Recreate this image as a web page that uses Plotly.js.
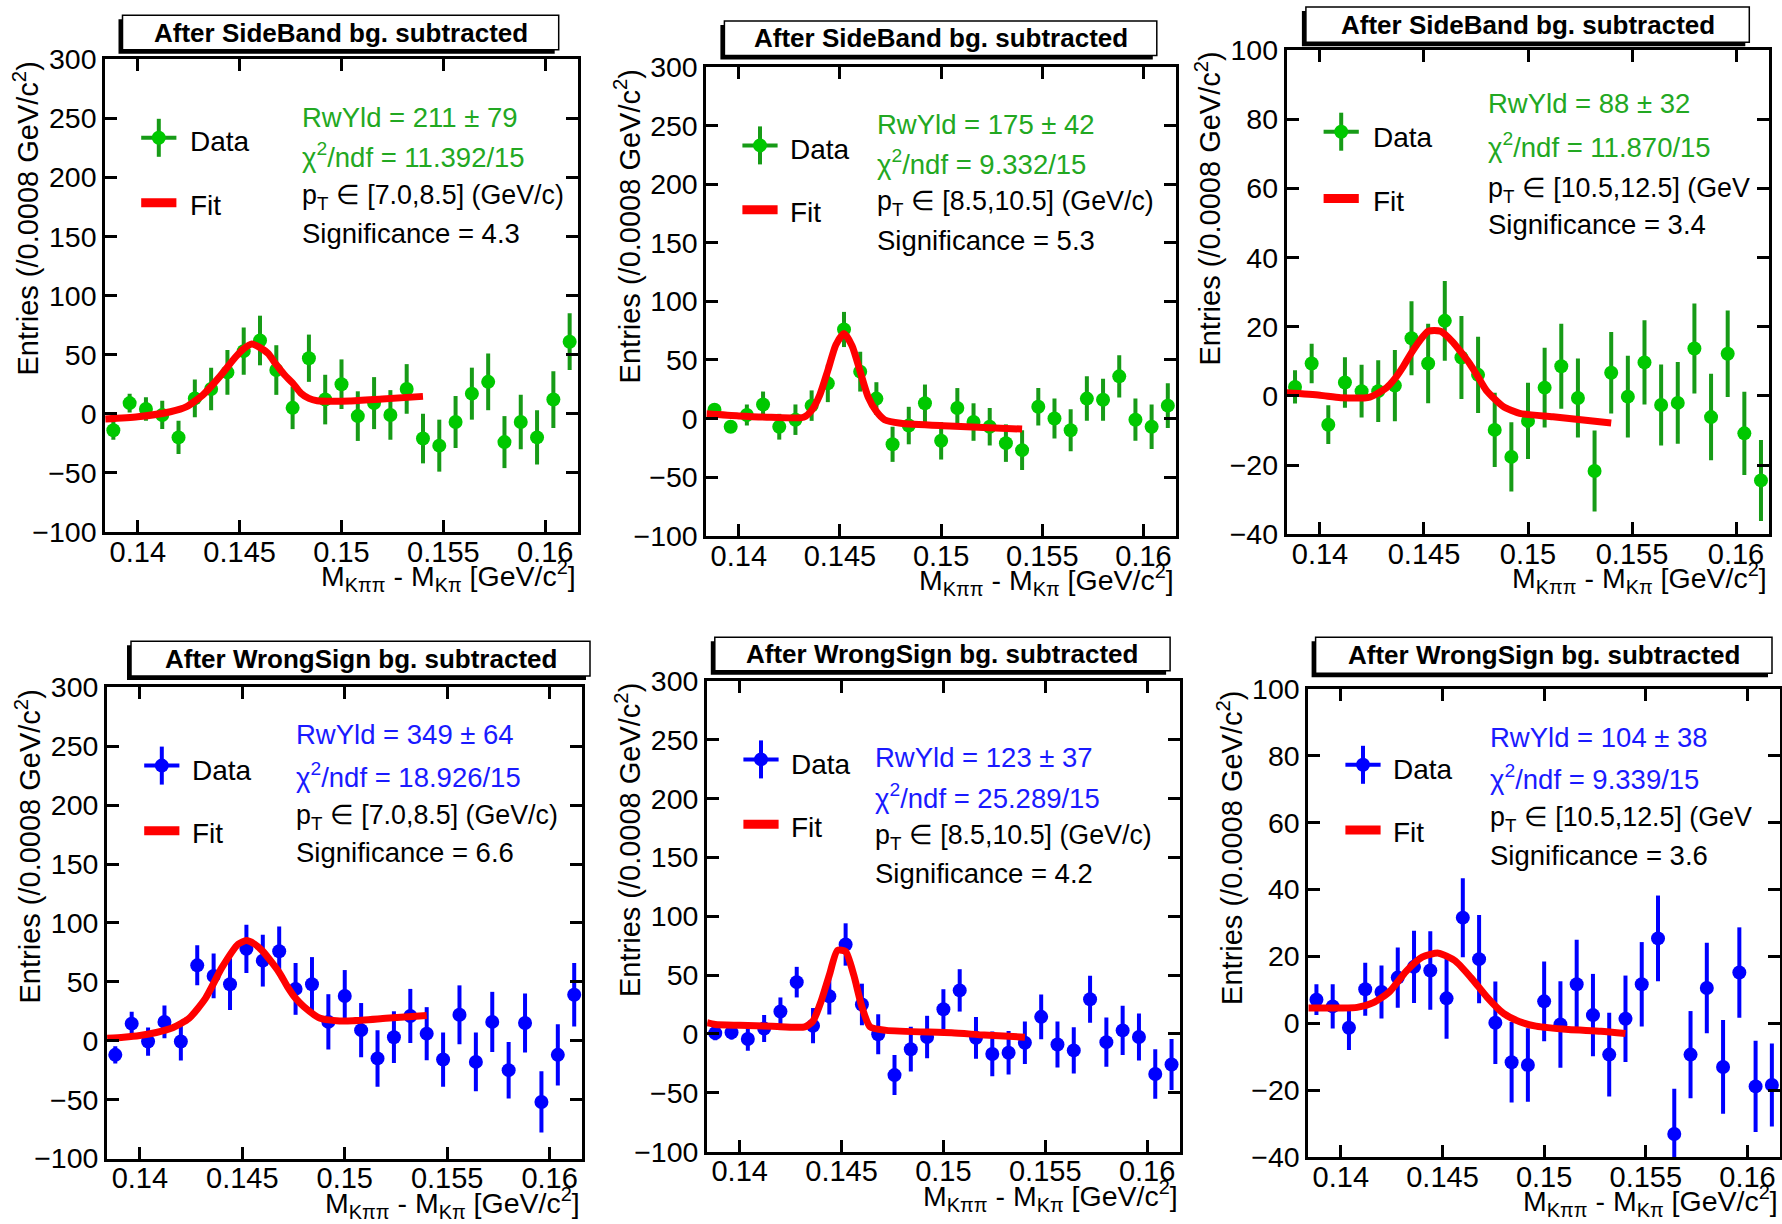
<!DOCTYPE html>
<html><head><meta charset="utf-8">
<script src="https://cdn.plot.ly/plotly-3.0.1.min.js"></script>
<style>html,body{margin:0;padding:0;background:#fff;} #chart{width:1782px;height:1224px;}</style>
</head><body><div id="chart"></div>
<script>
// ---------------- DATA ----------------
const binCenters = [0.1388, 0.1396, 0.1404, 0.1412, 0.1420, 0.1428, 0.1436, 0.1444, 0.1452, 0.1460,
  0.1468, 0.1476, 0.1484, 0.1492, 0.1500, 0.1508, 0.1516, 0.1524, 0.1532, 0.1540,
  0.1548, 0.1556, 0.1564, 0.1572, 0.1580, 0.1588, 0.1596, 0.1604, 0.1612];
const xTickVals = [0.14, 0.145, 0.15, 0.155, 0.16];
const xTickText = ['0.14', '0.145', '0.15', '0.155', '0.16'];
const yTicksWide = [-100, -50, 0, 50, 100, 150, 200, 250, 300];
const yTicksNarrow = [-40, -20, 0, 20, 40, 60, 80, 100];

// SideBand, pT [7.0,8.5]
const sb1Y = [-14, 9, 4, -1, -20, 13, 21, 35, 53, 62, 37, 5, 47, 12, 25, -2, 9, -1, 21, -21, -27, -7, 17, 27, -24, -7, -20, 12, 61];
const sb1E = [8, 8, 10, 12, 14, 16, 18, 19, 20, 21, 21, 18, 20, 21, 21, 21, 22, 21, 21, 21, 22, 22, 22, 24, 22, 23, 23, 24, 24];
const sb1FitX = [0.1384, 0.1400, 0.1416, 0.1424, 0.1432, 0.1440, 0.1448, 0.1452, 0.1456, 0.1460, 0.1464, 0.1468, 0.1472, 0.1476, 0.1480, 0.1484, 0.1488, 0.1496, 0.1504, 0.1520, 0.1540];
const sb1FitY = [-4.5, -2.6, 1.7, 6, 16, 31, 48, 55, 59, 56, 51, 41.5, 33, 26, 17.5, 13, 11, 10.5, 10.8, 12.5, 14.7];

// SideBand, pT [8.5,10.5]
const sb2Y = [7.5, -7, 3, 12, -7, -1, 11, 30, 76, 40, 17, -22, -6, 13, -19, 9, -3, -7, -21, -27, 10, 0, -10, 17, 16, 36, -1, -7, 11];
const sb2E = [5, 5, 9, 11, 11, 13, 13, 16, 15, 17, 14, 15, 16, 16, 16, 17, 16, 16, 16, 17, 16, 17, 18, 19, 18, 18, 18, 19, 19];
const sb2FitX = [0.1384, 0.1400, 0.1416, 0.1432, 0.1436, 0.1440, 0.1444, 0.1448, 0.1452, 0.1456, 0.1460, 0.1464, 0.1468, 0.1472, 0.1480, 0.1504, 0.1540];
const sb2FitY = [4, 2.2, 1.1, 1.1, 7, 20, 41, 63, 72.5, 62, 40, 18, 6, -1, -4, -6.3, -9];

// SideBand, pT [10.5,12.5]
const sb3Y = [2.6, 9.4, -8.3, 3.9, 1.4, 1.4, 3, 16.7, 9.4, 21.7, 11.1, 6.1, -9.8, -17.6, -7.2, 2.4, 8.6, -0.6, -21.7, 6.7, -0.2, 9.7, -2.6, -2, 13.7, -6.1, 12.2, -10.8, -24.4];
const sb3E = [4.8, 5.7, 5.6, 7.3, 7.6, 8.9, 10.3, 10.7, 11.5, 11.5, 12, 11, 10.7, 10, 11, 11.5, 12.3, 11.4, 11.7, 11.8, 11.8, 12.2, 11.7, 11.8, 13, 12.5, 12.5, 12, 11.7];
const sb3FitX = [0.1384, 0.1400, 0.1410, 0.1424, 0.1432, 0.1436, 0.1440, 0.1444, 0.1448, 0.1452, 0.1458, 0.1464, 0.1468, 0.1472, 0.1476, 0.1480, 0.1488, 0.1496, 0.1512, 0.1540];
const sb3FitY = [0.9, 0.2, -0.5, -0.3, 2.4, 5, 8.5, 12.5, 16, 18.7, 18.7, 15.5, 12.5, 9.3, 5.5, 1.6, -3, -5, -6, -7.8];

// WrongSign, pT [7.0,8.5]
const ws1Y = [-12, 14.5, -0.7, 16, -0.7, 64, 55, 48, 78, 68, 76, 44, 48, 16, 38, 9, -15, 3, 21, 6, -16, 22, -18, 16, -25, 15, -52, -12, 39];
const ws1E = [7.4, 10, 12, 14, 16, 17, 19, 22, 20.5, 22, 21, 22, 23, 23.5, 22, 23, 24, 22, 23, 22.5, 23, 25, 25, 25.5, 24, 25, 26, 26, 27];
const ws1FitX = [0.1384, 0.1392, 0.1400, 0.1408, 0.1416, 0.1424, 0.1432, 0.1440, 0.1448, 0.1452, 0.1456, 0.1460, 0.1468, 0.1472, 0.1476, 0.1480, 0.1488, 0.1496, 0.1504, 0.1520, 0.1540];
const ws1FitY = [2, 3, 4.5, 7, 11, 19, 36, 62, 82, 85, 82, 76, 58, 46, 36, 29, 19, 17, 17, 19, 21.5];

// WrongSign, pT [8.5,10.5]
const ws2Y = [0.7, 1.3, -4.3, 4.6, 19, 44, 7, 32, 76, 25, -0.3, -35, -13, -2.6, 21, 37, -3.3, -17, -16, -7.5, 14.5, -9, -14, 29.5, -7, 3, -2.6, -34, -26];
const ws2E = [6, 6, 10, 11.5, 12, 13, 15, 15.5, 18, 17.7, 17, 17, 19, 18, 17, 18, 17.7, 19, 18.5, 18, 19, 19.6, 19.6, 20, 21, 21, 20, 21, 21.6];
const ws2FitX = [0.1384, 0.1388, 0.1400, 0.1416, 0.1432, 0.1436, 0.1440, 0.1444, 0.1448, 0.1452, 0.1456, 0.1460, 0.1464, 0.1472, 0.1504, 0.1520, 0.1540];
const ws2FitY = [9.5, 8, 7.3, 6.5, 6, 11, 28, 50, 71, 70, 50, 23, 6, 3, 1, -1, -2.8];

// WrongSign, pT [10.5,12.5]
const ws3Y = [7.1, 5.1, -1.3, 10.2, 9.4, 13.7, 16.9, 15.8, 7.5, 31.6, 19.2, 0.2, -11.6, -12.4, 6.6, -0.3, 11.7, 2.5, -9.3, 1.4, 11.7, 25.4, -33, -9.3, 10.6, -13, 15.2, -18.8, -18.4];
const ws3E = [4.6, 6.6, 6.6, 7.9, 7.9, 9, 10.8, 11.7, 12.1, 11.8, 13.2, 12.3, 12, 11, 11.9, 12.9, 13.3, 12.3, 12.5, 12.9, 12.6, 12.8, 13.5, 13, 13.5, 14, 13.5, 13.6, 12.4];
const ws3FitX = [0.1384, 0.1400, 0.1408, 0.1416, 0.1424, 0.1432, 0.1440, 0.1448, 0.1456, 0.1464, 0.1472, 0.1480, 0.1488, 0.1496, 0.1512, 0.1528, 0.1540];
const ws3FitY = [4.6, 4.6, 4.8, 6.2, 9.5, 15.5, 19.8, 21, 18.8, 13.7, 7.8, 3, 0.5, -0.8, -1.8, -2.3, -3];

const panelTitles = ['After SideBand bg. subtracted', 'After SideBand bg. subtracted', 'After SideBand bg. subtracted',
  'After WrongSign bg. subtracted', 'After WrongSign bg. subtracted', 'After WrongSign bg. subtracted'];
const yieldText = ['211 ± 79', '175 ± 42', '88 ± 32', '349 ± 64', '123 ± 37', '104 ± 38'];
const chi2Text = ['11.392/15', '9.332/15', '11.870/15', '18.926/15', '25.289/15', '9.339/15'];
const ptText = ['[7.0,8.5] (GeV/c)', '[8.5,10.5] (GeV/c)', '[10.5,12.5] (GeV', '[7.0,8.5] (GeV/c)', '[8.5,10.5] (GeV/c)', '[10.5,12.5] (GeV'];
const signifText = ['4.3', '5.3', '3.4', '6.6', '4.2', '3.6'];

const seriesY = [sb1Y, sb2Y, sb3Y, ws1Y, ws2Y, ws3Y];
const seriesE = [sb1E, sb2E, sb3E, ws1E, ws2E, ws3E];
const fitXs = [sb1FitX, sb2FitX, sb3FitX, ws1FitX, ws2FitX, ws3FitX];
const fitYs = [sb1FitY, sb2FitY, sb3FitY, ws1FitY, ws2FitY, ws3FitY];

// ---------------- STYLE / LAYOUT ----------------
const W = 1782, H = 1224;
const FONT = 'Liberation Sans, Arial, Helvetica, sans-serif';
const GREEN = {marker: '#00c800', err: '#179b17', text: '#22a822'};
const BLUE = {marker: '#0000ff', err: '#0000ff', text: '#1a1aff'};
const panels = [
  {ax: [105.2, 577.8, 59.3, 531.9], wide: true, box: [122.5, 558.7, 15.3, 49.7], leg: [53.6, 78.5, 82.3, 82.3, 143.5], txt: [195.2, 58.2, 95.7, 135.7, 174.1], c: GREEN},
  {ax: [706.4, 1175.9, 67.0, 535.7], wide: true, box: [724.4, 1156.8, 21.0, 55.5], leg: [53.6, 78.4, 81.1, 82.2, 142.7], txt: [168.3, 57.4, 95.6, 133.9, 173.3], c: GREEN},
  {ax: [1286.7, 1769.3, 49.9, 534.4], wide: false, box: [1305.9, 1749.3, 6.9, 42.2], leg: [54.5, 81.8, 84.1, 87.1, 148.6], txt: [199.3, 53.8, 95.2, 138.2, 174.7], c: GREEN},
  {ax: [107.1, 582.4, 687.4, 1158.5], wide: true, box: [131.0, 590.0, 641.2, 675.9], leg: [54.7, 78.2, 82.4, 82.8, 143.3], txt: [186.4, 47.4, 87.8, 127.1, 164.9], c: BLUE},
  {ax: [707.1, 1179.7, 680.9, 1151.6], wide: true, box: [714.8, 1170.1, 637.3, 670.8], leg: [53.9, 78.5, 81.6, 83.6, 143.3], txt: [165.6, 77.0, 115.5, 154.0, 192.2], c: BLUE},
  {ax: [1308.3, 1780.0, 688.6, 1157.4], wide: false, box: [1315.6, 1772.0, 637.3, 673.2], leg: [54.7, 76.2, 82.4, 80.9, 141.3], txt: [179.9, 48.9, 89.3, 127.9, 166.4], c: BLUE}
];
const px = v => v / W;
const py = v => 1 - v / H;

const traces = [];
const layout = {
  width: W, height: H, margin: {l: 0, r: 0, t: 0, b: 0},
  paper_bgcolor: '#ffffff', plot_bgcolor: '#ffffff', showlegend: false,
  font: {family: FONT, color: '#000'},
  shapes: [], annotations: []
};

panels.forEach((p, i) => {
  const n = i === 0 ? '' : String(i + 1);
  const [L, R, T, B] = p.ax;
  layout['xaxis' + n] = {
    domain: [px(L), px(R)], anchor: 'y' + n, range: [0.1384, 0.1616],
    tickvals: xTickVals, ticktext: xTickText, ticks: 'inside', ticklen: 12, tickwidth: 3, tickcolor: '#000',
    showline: true, linewidth: 3, linecolor: '#000', mirror: 'ticks', showgrid: false, zeroline: false,
    tickfont: {family: FONT, size: 29, color: '#000'}, ticklabelstandoff: -8, fixedrange: true
  };
  layout['yaxis' + n] = {
    domain: [py(B), py(T)], anchor: 'x' + n, range: p.wide ? [-100, 300] : [-40, 100],
    tickvals: p.wide ? yTicksWide : yTicksNarrow, ticks: 'inside', ticklen: 12, tickwidth: 3, tickcolor: '#000',
    showline: true, linewidth: 3, linecolor: '#000', mirror: 'ticks', showgrid: false, zeroline: false,
    tickfont: {family: FONT, size: 28.5, color: '#000'}, fixedrange: true
  };
  traces.push({
    x: binCenters, y: seriesY[i], xaxis: 'x' + n, yaxis: 'y' + n, type: 'scatter', mode: 'markers',
    marker: {size: 14, color: p.c.marker},
    error_y: {type: 'data', array: seriesE[i], visible: true, thickness: 4, width: 0, color: p.c.err},
    hoverinfo: 'skip'
  });
  traces.push({
    x: fitXs[i], y: fitYs[i], xaxis: 'x' + n, yaxis: 'y' + n, type: 'scatter', mode: 'lines',
    line: {color: '#ff0000', width: 7, shape: 'spline', smoothing: 0.6}, hoverinfo: 'skip'
  });

  // title box with shadow
  const [bx0, bx1, by0, by1] = p.box;
  layout.shapes.push({type: 'rect', xref: 'paper', yref: 'paper', x0: px(bx0 - 4), x1: px(bx1 - 4), y0: py(by1 + 4), y1: py(by0 + 4),
    fillcolor: '#000', line: {width: 0}, layer: 'above'});
  layout.shapes.push({type: 'rect', xref: 'paper', yref: 'paper', x0: px(bx0), x1: px(bx1), y0: py(by1), y1: py(by0),
    fillcolor: '#fff', line: {width: 1.5, color: '#000'}, layer: 'above'});
  layout.annotations.push({xref: 'paper', yref: 'paper', x: px((bx0 + bx1) / 2), y: py((by0 + by1) / 2),
    xanchor: 'center', yanchor: 'middle', showarrow: false, text: '<b>' + panelTitles[i] + '</b>',
    font: {family: FONT, size: 26, color: '#000'}});

  // legend
  const [mx, my, tx, dy, fy] = p.leg;
  const cx = L + mx, cy = T + my;
  layout.shapes.push({type: 'line', xref: 'paper', yref: 'paper', x0: px(cx - 17.6), x1: px(cx + 17.6), y0: py(cy), y1: py(cy),
    line: {color: p.c.err, width: 4}});
  layout.shapes.push({type: 'line', xref: 'paper', yref: 'paper', x0: px(cx), x1: px(cx), y0: py(cy - 19), y1: py(cy + 19),
    line: {color: p.c.err, width: 4}});
  layout.shapes.push({type: 'circle', xref: 'paper', yref: 'paper', x0: px(cx - 7), x1: px(cx + 7), y0: py(cy + 7), y1: py(cy - 7),
    fillcolor: p.c.marker, line: {width: 0}});
  layout.shapes.push({type: 'line', xref: 'paper', yref: 'paper', x0: px(cx - 17.6), x1: px(cx + 17.6), y0: py(T + fy), y1: py(T + fy),
    line: {color: '#ff0000', width: 9}});
  layout.annotations.push({xref: 'paper', yref: 'paper', x: px(L + tx), y: py(T + dy), xanchor: 'left', yanchor: 'middle',
    showarrow: false, text: 'Data', font: {family: FONT, size: 28, color: '#000'}});
  layout.annotations.push({xref: 'paper', yref: 'paper', x: px(L + tx), y: py(T + fy + 3), xanchor: 'left', yanchor: 'middle',
    showarrow: false, text: 'Fit', font: {family: FONT, size: 28, color: '#000'}});

  // info text
  const [tl, y1, y2, y3, y4] = p.txt;
  const lines = [
    ['RwYld = ' + yieldText[i], y1, p.c.text, 27.5],
    ['χ<sup>2</sup>/ndf = ' + chi2Text[i], y2, p.c.text, 27.5],
    ['p<sub>T</sub> ∈ ' + ptText[i], y3 + 2, '#000', 26.8],
    ['Significance = ' + signifText[i], y4, '#000', 27.5]
  ];
  lines.forEach(([t, yy, col, sz]) => {
    layout.annotations.push({xref: 'paper', yref: 'paper', x: px(L + tl), y: py(T + yy), xanchor: 'left', yanchor: 'middle',
      showarrow: false, text: t, font: {family: FONT, size: sz, color: col}});
  });

  // axis titles
  layout.annotations.push({xref: 'paper', yref: 'paper', x: px(L - 79), y: py(T), xanchor: 'center', yanchor: 'top',
    textangle: -90, showarrow: false, text: 'Entries (/0.0008 GeV/c<sup>2</sup>)', font: {family: FONT, size: 29, color: '#000'}});
  layout.annotations.push({xref: 'paper', yref: 'paper', x: px(R), y: py(B + 44), xanchor: 'right', yanchor: 'middle',
    showarrow: false, text: 'M<sub>Kππ</sub> - M<sub>Kπ</sub> [GeV/c<sup>2</sup>]', font: {family: FONT, size: 28.5, color: '#000'}});
});

Plotly.newPlot('chart', traces, layout, {staticPlot: true, displayModeBar: false});
</script>
</body></html>
